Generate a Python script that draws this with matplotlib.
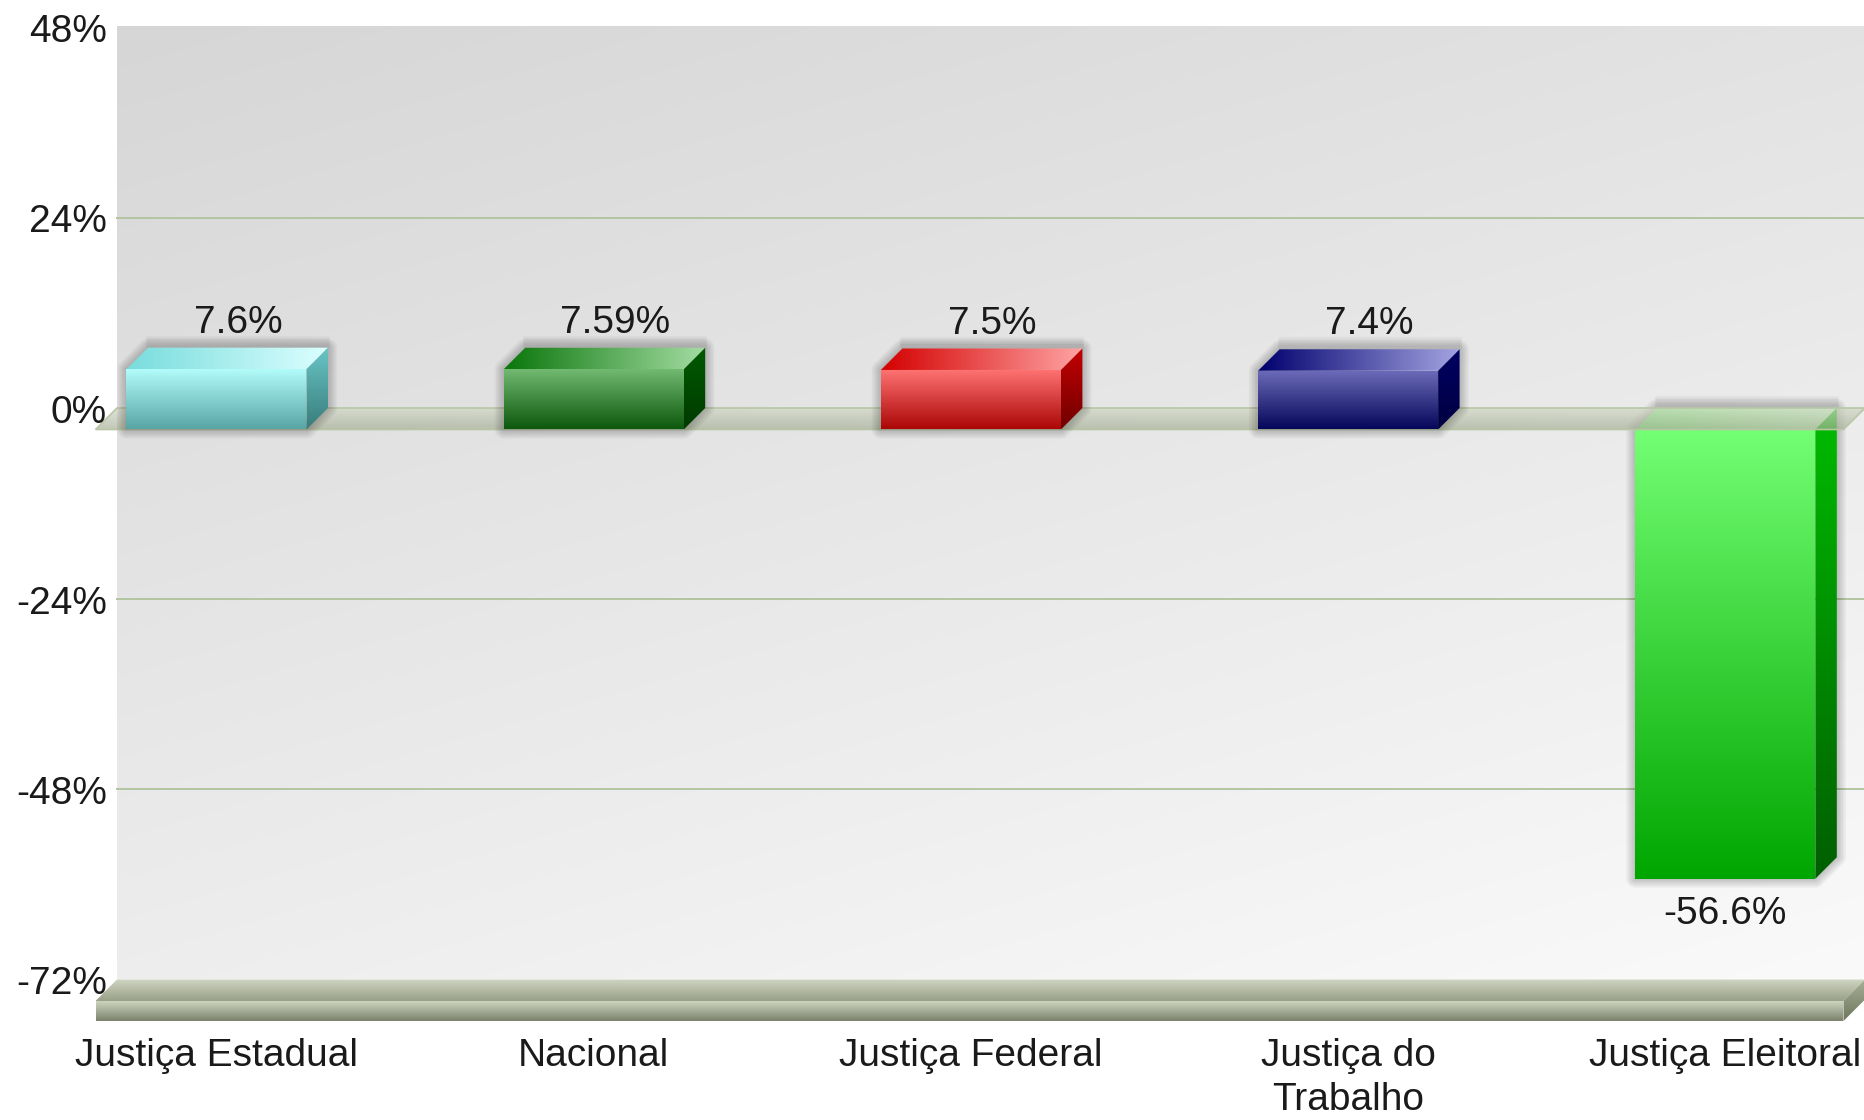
import numpy as np
import matplotlib
matplotlib.use("Agg")
import matplotlib.pyplot as plt
import matplotlib.colors as mcolors
from matplotlib.patches import Polygon

# data
categorias = ["Justiça Estadual", "Nacional", "Justiça Federal", "Justiça do\nTrabalho", "Justiça Eleitoral"]
valores = [7.6, 7.59, 7.5, 7.4, -56.6]
rotulos = ["7.6%", "7.59%", "7.5%", "7.4%", "-56.6%"]
yticks = [48, 24, 0, -24, -48, -72]
grid_y = [24, -24, -48]

# colours per bar: front (top, bottom), top face (left, right), side (top, bottom)
cores_frente = [("#b4fdfd", "#58a4a4"), ("#74bb74", "#0c580c"), ("#ff7474", "#ac0606"),
                ("#6c6cba", "#06065a"), ("#74ff74", "#00a600")]
cores_topo = [("#78dcdc", "#dcffff"), ("#0a760a", "#a4dca4"), ("#d40000", "#ffa4a4"),
              ("#00006e", "#a4a4e2"), ("#7ef07e", "#c8f8c8")]
cores_lado = [("#6ac6c6", "#387c7c"), ("#005a00", "#003a00"), ("#c40000", "#700000"),
              ("#000064", "#000040"), ("#00bc00", "#005e00")]

plt.rcParams["font.family"] = ["Liberation Sans", "DejaVu Sans"]

W, H = 1865, 1120
fig = plt.figure(figsize=(W / 100, H / 100), dpi=100)
ax = fig.add_axes([0, 0, 1, 1])
ax.axis("off")

# geometry (front plane units: x = category index, y = percent)
px_x = 377.2          # pixels per category
px_y = 190.5 / 24     # pixels per percent
x0_px, y0_px = 216.5, 429.5
dx = 21.5 / px_x      # 3D depth offset
dy = 21.5 / px_y
hw = 90 / px_x        # half bar width
L = (95.5 - x0_px) / px_x
R = (1843.5 - x0_px) / px_x
ymin, ymax = yticks[-1], yticks[0]
desce = 5 / px_y      # small downward nudge for text


def grad(verts, c1, c2, horizontal=False, z=3, alpha=1.0):
    verts = np.asarray(verts, dtype=float)
    xa, ya = verts.min(axis=0)
    xb, yb = verts.max(axis=0)
    a = np.array(mcolors.to_rgb(c1))
    b = np.array(mcolors.to_rgb(c2))
    t = np.linspace(0, 1, 256)[:, None]
    cols = a * (1 - t) + b * t
    img = cols[None, :, :] if horizontal else cols[:, None, :]
    im = ax.imshow(img, extent=(xa, xb, ya, yb), origin="upper", aspect="auto",
                   interpolation="bilinear", zorder=z, alpha=alpha)
    poly = Polygon(verts, closed=True, facecolor="none", edgecolor="none")
    ax.add_patch(poly)
    im.set_clip_path(poly)


# background of the back wall, diagonal gradient
u = np.linspace(0, 1, 300)[None, :]
v = np.linspace(0, 1, 300)[:, None]
tone = (214 + 36 * (0.35 * u + 0.65 * v)) / 255
bg = np.dstack([tone, tone, tone])
ax.imshow(bg, extent=(L + dx, R + dx, ymin + dy, ymax + dy), origin="upper",
          aspect="auto", interpolation="bilinear", zorder=1)

# gridlines on back wall
for g in grid_y:
    ax.plot([L + dx, R + dx], [g + dy, g + dy], color="#b3c6a0", lw=1.4, zorder=2)

# bottom slab at -72%
esp = 20 / px_y
topo_slab = [(L, ymin), (R, ymin), (R + dx, ymin + dy), (L + dx, ymin + dy)]
grad(topo_slab, "#cfd5c2", "#99a087", z=2)
grad([(L, ymin), (R, ymin), (R, ymin - esp), (L, ymin - esp)], "#cdd4c0", "#7a826c", z=2)
grad([(R, ymin), (R + dx, ymin + dy), (R + dx, ymin + dy - esp), (R, ymin - esp)],
     "#a8b096", "#6e765e", z=2)


def barra(i, val, z):
    x = i
    topo = max(val, 0)
    base = min(val, 0)
    # soft shadow, stronger toward the top
    silh = [(x - hw, base), (x - hw, topo), (x - hw + dx, topo + dy), (x + hw + dx, topo + dy),
            (x + hw + dx, base + dy), (x + hw, base)]
    for k in range(1, 7):
        ax.add_patch(Polygon(silh, closed=True, facecolor="none", edgecolor="black",
                             lw=2.2 * k, alpha=0.035, joinstyle="round", zorder=z - 0.5))
    sombra = [(x - hw + dx, topo + dy), (x + hw + dx, topo + dy)]
    for k in range(1, 6):
        ax.plot([p[0] for p in sombra], [p[1] + 0.25 * k for p in sombra], color="black",
                lw=3, alpha=0.03, solid_capstyle="round", zorder=z - 0.5)
    # top face
    grad([(x - hw, topo), (x + hw, topo), (x + hw + dx, topo + dy), (x - hw + dx, topo + dy)],
         cores_topo[i][0], cores_topo[i][1], horizontal=True, z=z)
    # side face
    grad([(x + hw, base), (x + hw, topo), (x + hw + dx, topo + dy), (x + hw + dx, base + dy)],
         cores_lado[i][0], cores_lado[i][1], z=z)
    # front face
    grad([(x - hw, base), (x + hw, base), (x + hw, topo), (x - hw, topo)],
         cores_frente[i][0], cores_frente[i][1], z=z + 0.1)


for i, val in enumerate(valores):
    if val < 0:
        barra(i, val, 3)

# zero floor (translucent)
chao = [(L, 0), (R, 0), (R + dx, dy), (L + dx, dy)]
grad(chao, "#d4dac8", "#a8b098", z=4, alpha=0.7)
ax.add_patch(Polygon(chao, closed=True, facecolor="none", edgecolor="#b8c6a6", lw=1.2, zorder=4.1))

for i, val in enumerate(valores):
    if val >= 0:
        barra(i, val, 5)

# texts
for t in yticks:
    ax.text(L + dx - 10 / px_x, t + dy - desce, f"{t}%", ha="right", va="center",
            fontsize=28, color="#1a1a1a", zorder=7)

for i, (val, r) in enumerate(zip(valores, rotulos)):
    if val >= 0:
        ax.text(i + dx, val + dy + 3.75 - desce, r, ha="center", va="center",
                fontsize=28, color="#1a1a1a", zorder=7)
    else:
        ax.text(i, val - 3.8 - desce, r, ha="center", va="center",
                fontsize=28, color="#1a1a1a", zorder=7)

for i, c in enumerate(categorias):
    ax.text(i, (y0_px - 1038) / px_y, c, ha="center", va="top", fontsize=28,
            color="#1a1a1a", linespacing=1.3, zorder=7)

ax.set_xlim(-x0_px / px_x, (W - x0_px) / px_x)
ax.set_ylim((y0_px - H) / px_y, y0_px / px_y)

fig.savefig("out.png", dpi=100, facecolor="white")
